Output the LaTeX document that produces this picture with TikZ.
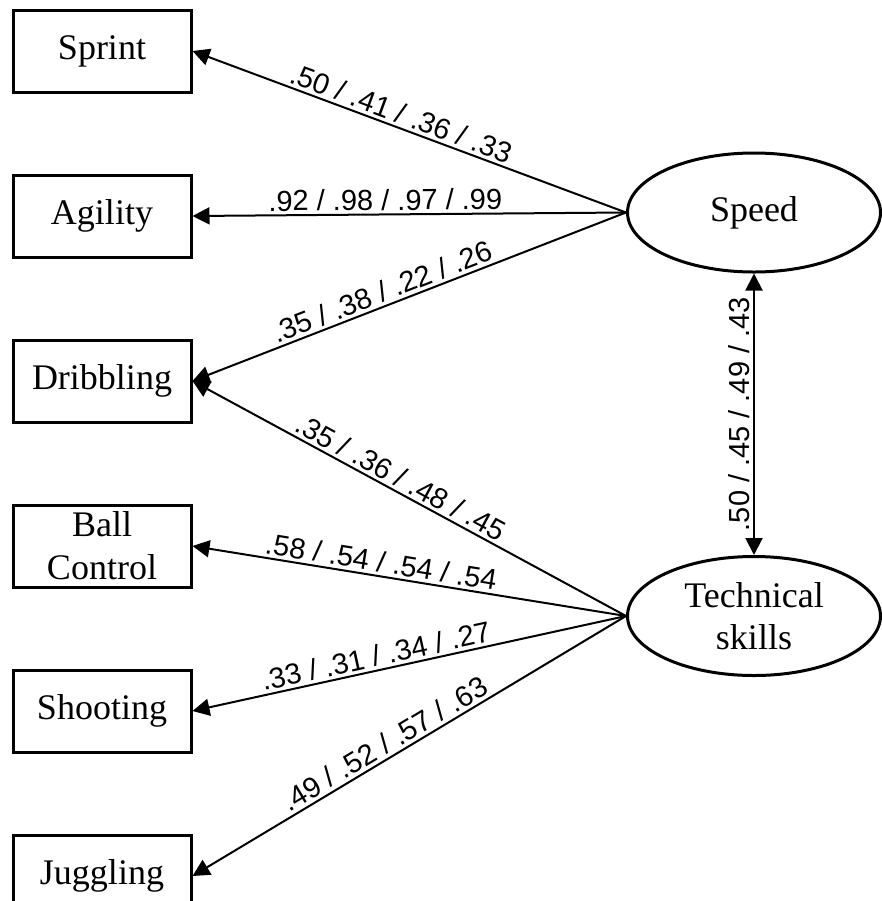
\documentclass[tikz,border=0pt]{standalone}
\usepackage{fontspec}
\setmainfont{Liberation Serif}
\newfontfamily\loadfont{Liberation Sans}
\usetikzlibrary{positioning,arrows.meta,shapes.geometric}
\tikzset{
  indicator/.style={
    draw,
    line width=1.5pt,
    minimum width=89pt,
    minimum height=41pt,
    align=center,
    font=\fontsize{18}{21.5}\selectfont,
  },
  factor/.style={
    draw,
    ellipse,
    line width=1.5pt,
    minimum width=126.5pt,
    minimum height=59.5pt,
    inner sep=0pt,
    align=center,
    font=\fontsize{18}{21}\selectfont,
  },
  loading/.style={
    line width=1pt,
    {Triangle[length=8.5pt,width=8.5pt]}-,
  },
  covariance/.style={
    line width=1pt,
    {Triangle[length=8.5pt,width=8.5pt]}-{Triangle[length=8.5pt,width=8.5pt]},
  },
  weight/.style={
    sloped,
    above=0pt,
    inner sep=1.5pt,
    font=\loadfont\fontsize{14.5}{16}\selectfont,
  }
}

\begin{document}
\begin{tikzpicture}[x=0.5pt, y=-0.5pt, node distance=40pt]
        \useasboundingbox (0,0) rectangle (882,901);
        \clip (0,0) rectangle (882,901);

        \node [indicator] (sprint) at (102,51) {Sprint};
        \node [indicator, below=of sprint] (agility) {Agility};
        \node [indicator, below=of agility] (dribbling) {Dribbling};
        \node [indicator, below=of dribbling] (ballctrl) {Ball\\Control};
        \node [indicator, below=of ballctrl] (shooting) {Shooting};
        \node [indicator, below=of shooting] (juggling) {Juggling};

        \node [factor] (speed) at (754,212.5) {Speed};
        \node [factor] (technical) at (754,616) {Technical\\skills};

        \draw [loading] (sprint.east) -- node [weight, pos=0.47] {.50 / .41 / .36 / .33} (speed.west);
        \draw [loading] (agility.east) -- node [weight, pos=0.445] {.92 / .98 / .97 / .99} (speed.west);
        \draw [loading] (dribbling.east) -- node [weight, pos=0.45] {.35 / .38 / .22 / .26} (speed.west);
        \draw [loading] (dribbling.east) -- node [weight, pos=0.465] {.35 / .36 / .48 / .45} (technical.west);
        \draw [loading] (ballctrl.east) -- node [weight, pos=0.43] {.58 / .54 / .54 / .54} (technical.west);
        \draw [loading] (shooting.east) -- node [weight, pos=0.43] {.33 / .31 / .34 / .27} (technical.west);
        \draw [loading] (juggling.east) -- node [weight, pos=0.46] {.49 / .52 / .57 / .63} (technical.west);

        \draw [covariance] (technical) -- node [weight] {.50 / .45 / .49 / .43} (speed);
      \end{tikzpicture}
\end{document}
